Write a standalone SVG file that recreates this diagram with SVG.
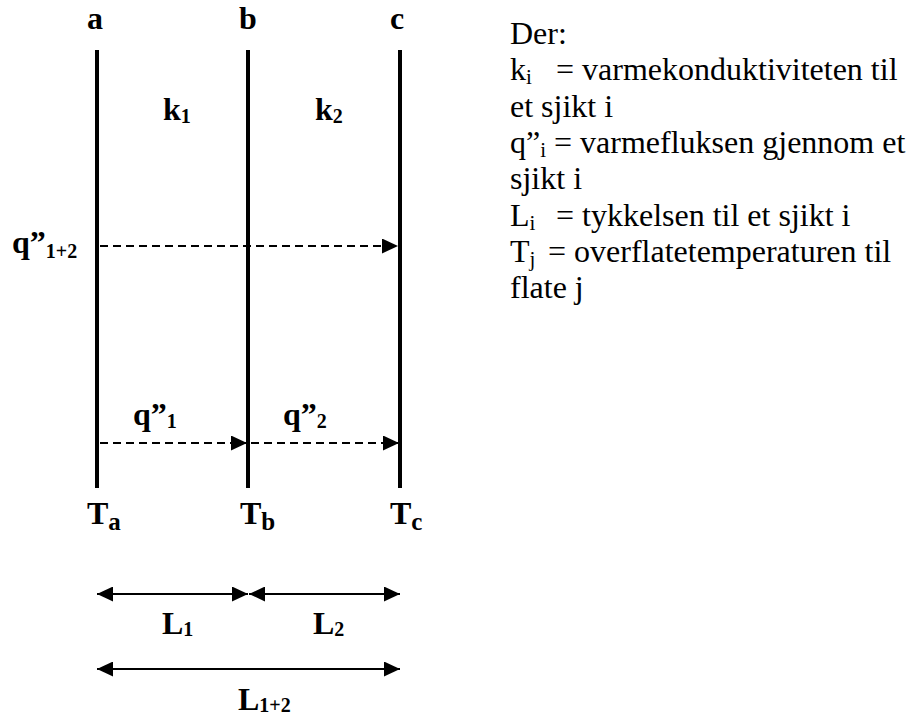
<svg xmlns="http://www.w3.org/2000/svg" width="909" height="715" viewBox="0 0 909 715">
<style>
.wall{stroke:#000;stroke-width:4;fill:none}
.dash{stroke:#000;stroke-width:2;stroke-dasharray:8 5;fill:none}
.dim{stroke:#000;stroke-width:2;fill:none}
text{font-family:"Liberation Serif",serif;fill:#000}
.lb{font-weight:bold;font-size:32px}
.sb{font-size:20px}
.tx{font-size:32px}
.ts{font-size:21px}
</style>
<defs>
<marker id="ah" markerUnits="userSpaceOnUse" markerWidth="16" markerHeight="15" refX="16" refY="7.5" orient="auto-start-reverse" viewBox="0 0 16 15">
<path d="M0,0 L16,7.5 L0,15 Z" fill="#000"/>
</marker>
</defs>
<rect width="909" height="715" fill="#fff"/>
<g id="walls">
<line class="wall" x1="97" y1="50" x2="97" y2="488"/>
<line class="wall" x1="248" y1="50" x2="248" y2="488"/>
<line class="wall" x1="400" y1="50" x2="400" y2="488"/>
</g>
<g id="connectors">
<line class="dash" x1="100" y1="246" x2="398" y2="246" marker-end="url(#ah)"/>
<line class="dash" x1="100" y1="443" x2="247" y2="443" marker-end="url(#ah)"/>
<line class="dash" x1="251" y1="443" x2="399" y2="443" marker-end="url(#ah)"/>
<line class="dim" x1="97" y1="594" x2="248" y2="594" marker-start="url(#ah)" marker-end="url(#ah)"/>
<line class="dim" x1="249" y1="594" x2="400" y2="594" marker-start="url(#ah)" marker-end="url(#ah)"/>
<line class="dim" x1="97" y1="669" x2="400" y2="669" marker-start="url(#ah)" marker-end="url(#ah)"/>
</g>
<g id="labels">
<text class="lb" x="95" y="29" text-anchor="middle">a</text>
<text class="lb" x="248" y="29" text-anchor="middle">b</text>
<text class="lb" x="397" y="29" text-anchor="middle">c</text>
<text class="lb" x="163" y="120">k<tspan class="sb" dy="3">1</tspan></text>
<text class="lb" x="315" y="120">k<tspan class="sb" dy="3">2</tspan></text>
<text class="lb" x="12" y="253">q”<tspan class="sb" dy="5">1+2</tspan></text>
<text class="lb" x="133" y="425">q”<tspan class="sb" dy="3">1</tspan></text>
<text class="lb" x="283" y="425">q”<tspan class="sb" dy="3">2</tspan></text>
<text class="lb" x="87" y="524">T<tspan style="font-size:25px" dy="6">a</tspan></text>
<text class="lb" x="240" y="524">T<tspan style="font-size:25px" dy="6">b</tspan></text>
<text class="lb" x="390" y="524">T<tspan style="font-size:25px" dy="6">c</tspan></text>
<text class="lb" x="162" y="634">L<tspan class="sb" dy="2">1</tspan></text>
<text class="lb" x="313" y="634">L<tspan class="sb" dy="2">2</tspan></text>
<text class="lb" x="238" y="710">L<tspan class="sb" dy="2">1+2</tspan></text>
</g>
<g id="legend">
<text class="tx" x="510" y="44">Der:</text>
<text class="tx" x="510" y="80">k<tspan class="ts" dy="4">i</tspan><tspan x="556" y="80">= varmekonduktiviteten til</tspan></text>
<text class="tx" x="510" y="117">et sjikt i</text>
<text class="tx" x="510" y="153">q”<tspan class="ts" dy="4">i</tspan><tspan dy="-4"> = varmefluksen gjennom et</tspan></text>
<text class="tx" x="510" y="189">sjikt i</text>
<text class="tx" x="510" y="226">L<tspan class="ts" dy="4">i</tspan><tspan x="556" y="226">= tykkelsen til et sjikt i</tspan></text>
<text class="tx" x="510" y="262">T<tspan class="ts" dy="4">j</tspan><tspan x="548" y="262">= overflatetemperaturen til</tspan></text>
<text class="tx" x="510" y="298">flate j</text>
</g>
</svg>
